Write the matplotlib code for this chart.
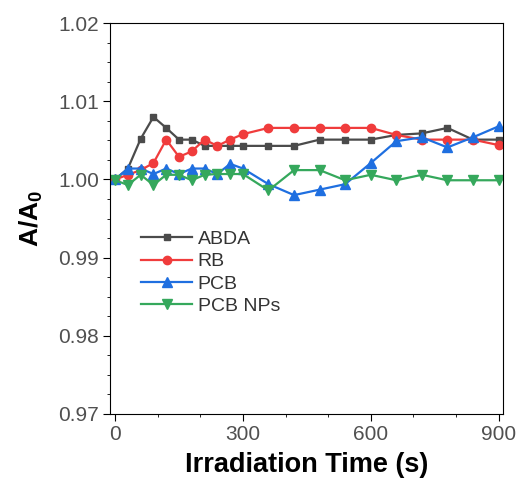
import matplotlib
matplotlib.use("Agg")
import matplotlib.pyplot as plt
from matplotlib.ticker import MultipleLocator

plt.rcParams['font.family'] = ['Liberation Sans', 'DejaVu Sans']

# irradiation time (s)
t = [0, 30, 60, 90, 120, 150, 180, 210, 240, 270, 300,
     360, 420, 480, 540, 600, 660, 720, 780, 840, 900]

abda = [1.0000, 1.0014, 1.0052, 1.0080, 1.0066, 1.0051, 1.0051, 1.0043, 1.0043, 1.0043, 1.0043,
        1.0043, 1.0043, 1.0051, 1.0051, 1.0051, 1.0057, 1.0059, 1.0066, 1.0051, 1.0051]
rb = [1.0000, 1.0006, 1.0012, 1.0021, 1.0051, 1.0029, 1.0036, 1.0051, 1.0043, 1.0051, 1.0058,
      1.0066, 1.0066, 1.0066, 1.0066, 1.0066, 1.0057, 1.0051, 1.0051, 1.0051, 1.0044]
pcb = [1.0000, 1.0014, 1.0014, 1.0007, 1.0014, 1.0007, 1.0014, 1.0014, 1.0007, 1.0020, 1.0014,
       0.9994, 0.9980, 0.9987, 0.9994, 1.0021, 1.0049, 1.0054, 1.0041, 1.0054, 1.0068]
pcb_nps = [0.9999, 0.9993, 1.0006, 0.9993, 1.0006, 1.0006, 0.9999, 1.0006, 1.0007, 1.0007, 1.0007,
           0.9986, 1.0012, 1.0012, 0.9999, 1.0006, 0.9999, 1.0006, 0.9999, 0.9999, 0.9999]

fig = plt.figure(figsize=(5.2, 4.83), dpi=100)
ax = fig.add_axes([0.2115, 0.143, 0.7555, 0.809])

ax.plot(t, abda, '-s', color='#4b4b4b', ms=5, lw=1.6, label='ABDA')
ax.plot(t, rb, '-o', color='#f03c3c', ms=6, lw=1.6, label='RB')
ax.plot(t, pcb, '-^', color='#1f6fe0', ms=7, lw=1.6, label='PCB')
ax.plot(t, pcb_nps, '-v', color='#35a85c', ms=7, lw=1.6, label='PCB NPs')

ax.set_xlim(-12, 910)
ax.set_ylim(0.97, 1.02)
ax.xaxis.set_major_locator(MultipleLocator(300))
ax.xaxis.set_minor_locator(MultipleLocator(100))
ax.yaxis.set_minor_locator(MultipleLocator(0.0025))
ax.set_yticks([0.97, 0.98, 0.99, 1.00, 1.01, 1.02])
ax.set_yticklabels(['0.97', '0.98', '0.99', '1.00', '1.01', '1.02'])
ax.tick_params(which='both', direction='out', labelsize=15, labelcolor='#505050', pad=3)
ax.tick_params(which='major', length=5)
ax.tick_params(which='minor', length=2.5)

ax.set_xlabel('Irradiation Time (s)', fontsize=19.5, fontweight='bold', labelpad=6)
ax.set_ylabel('A/A$_\\mathregular{0}$', fontsize=19, fontweight='bold', labelpad=9)

ax.legend(loc='upper left', bbox_to_anchor=(0.06, 0.49), frameon=False, fontsize=14,
          handlelength=2.6, handletextpad=0.3, labelspacing=0.25, borderaxespad=0,
          labelcolor='#333333')

fig.savefig('out.png', dpi=100)
